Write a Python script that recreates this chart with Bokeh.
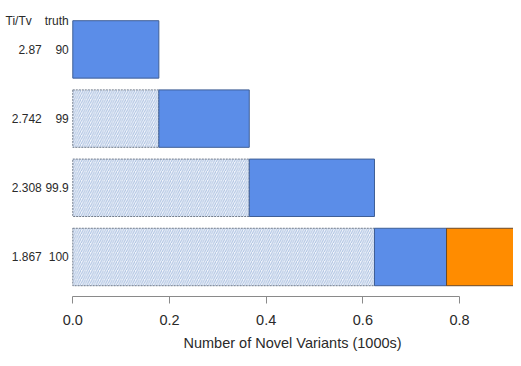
from bokeh.plotting import figure
from bokeh.models import ColumnDataSource, FixedTicker, Range1d, Title
from bokeh.core.properties import value
from bokeh.embed import file_html
from bokeh.resources import INLINE

# ---- data ----
tstv = ["2.87", "2.742", "2.308", "1.867"]
truth = ["90", "99", "99.9", "100"]
rows = [4, 3, 2, 1]                      # top to bottom
known = [0.0, 0.178, 0.365, 0.624]       # hatched (previous tranche) width
novel = [0.178, 0.187, 0.259, 0.149]     # blue width
extra = [0.0, 0.0, 0.0, 0.20]            # orange width
ticks = [0.0, 0.2, 0.4, 0.6, 0.8]
tick_labels = ["0.0", "0.2", "0.4", "0.6", "0.8"]
x_title = "Number of Novel Variants (1000s)"

blue_left = known
blue_right = [k + n for k, n in zip(known, novel)]
orange_right = [b + e for b, e in zip(blue_right, extra)]

p = figure(width=513, height=358, output_backend="svg", toolbar_location=None,
           x_range=Range1d(-0.1495, 0.9115), y_range=Range1d(0.429, 4.707),
           min_border_left=0, min_border_right=0, min_border_top=0,
           min_border_bottom=62, y_axis_location=None)
p.outline_line_color = None
p.xgrid.grid_line_color = None
p.ygrid.grid_line_color = None
p.background_fill_color = "white"
p.border_fill_color = "white"

h = 0.83
hatch_src = ColumnDataSource(dict(y=[r for r, k in zip(rows, known) if k > 0],
                                  right=[k for k in known if k > 0]))
p.hbar(y="y", left=0, right="right", height=h, source=hatch_src,
       fill_color="#f2f6fc", hatch_pattern="/", hatch_color="#aabfdf",
       hatch_scale=4.5, hatch_weight=1,
       line_color="#737d8c", line_width=1, line_dash="2 1")

blue_src = ColumnDataSource(dict(y=rows, left=blue_left, right=blue_right))
p.hbar(y="y", left="left", right="right", height=h, source=blue_src,
       fill_color="#5b8de8", line_color="#3f5f96", line_width=1)

o_idx = [i for i, e in enumerate(extra) if e > 0]
orange_src = ColumnDataSource(dict(y=[rows[i] for i in o_idx],
                                   left=[blue_right[i] for i in o_idx],
                                   right=[orange_right[i] for i in o_idx]))
p.hbar(y="y", left="left", right="right", height=h, source=orange_src,
       fill_color="#ff8c00", line_color="#6a4a2a", line_width=1)

# row labels
lab_src = ColumnDataSource(dict(x=[0.0] * 4, y=rows, t1=tstv, t2=truth))
p.text(x="x", y="y", text="t1", source=lab_src, x_offset=-31,
       text_align="right", text_baseline="middle", text_font=value("Liberation Sans"),
       text_font_size="12px", text_color="#2a2a2a")
p.text(x="x", y="y", text="t2", source=lab_src, x_offset=-4,
       text_align="right", text_baseline="middle", text_font=value("Liberation Sans"),
       text_font_size="12px", text_color="#2a2a2a")
hdr_src = ColumnDataSource(dict(x=[0.0, 0.0], y=[rows[0], rows[0]], t=["Ti/Tv", "truth"],
                                off=[-41, -4]))
p.text(x="x", y="y", text="t", source=hdr_src, x_offset="off", y_offset=-28,
       text_align="right", text_baseline="middle", text_font=value("Liberation Sans"),
       text_font_size="12px", text_color="#2a2a2a")

ax = p.xaxis[0]
ax.bounds = (0, 0.8)
ax.ticker = FixedTicker(ticks=ticks)
ax.major_label_overrides = {t: l for t, l in zip(ticks, tick_labels)}
ax.minor_tick_line_color = None
ax.major_tick_in = 0
ax.major_tick_out = 7
ax.axis_line_color = "#8a8a8a"
ax.major_tick_line_color = "#8a8a8a"
ax.major_label_text_font = "Liberation Sans"
ax.major_label_text_font_size = "14.5px"
ax.major_label_text_color = "#2a2a2a"
ax.major_label_standoff = 11

# axis title centred on the plotting region (R style), below the tick labels
p.add_layout(Title(text=x_title, align="left", offset=183, standoff=10,
                   text_font="Liberation Sans", text_font_size="14.5px",
                   text_font_style="normal", text_color="#2a2a2a"), "below")

open("out.html", "w").write(file_html(p, INLINE))
